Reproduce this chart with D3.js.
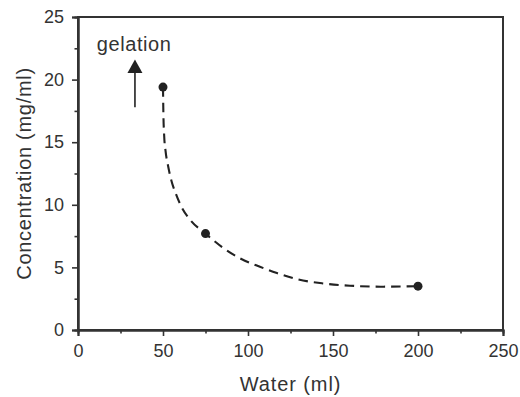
<!DOCTYPE html>
<html>
<head>
<meta charset="utf-8">
<script src="https://cdn.jsdelivr.net/npm/d3@7"></script>
<style>
  html, body { margin: 0; padding: 0; background: #fff; }
  svg text { font-family: "Liberation Sans", Arial, sans-serif; fill: #333; }
</style>
</head>
<body>
<svg id="chart" width="520" height="397"></svg>
<script>
// Measured points
const waterMl = [50, 75, 200];
const concentration = [19.4, 7.7, 3.5];

// Dashed guide curve
const curveWater = [50, 50.2, 50.7, 51.5, 53, 55, 57.5, 61, 66, 75, 85, 95, 107, 117, 129, 144, 160, 178, 200];
const curveConc  = [19.4, 17.5, 15.5, 14.3, 13.1, 11.9, 10.9, 9.8, 8.8, 7.7, 6.6, 5.75, 5.05, 4.55, 4.05, 3.72, 3.54, 3.46, 3.5];

// Axis ticks
const xMajor = [0, 50, 100, 150, 200, 250];
const xMinor = [25, 75, 125, 175, 225];
const yMajor = [0, 5, 10, 15, 20, 25];
const yMinor = [2.5, 7.5, 12.5, 17.5, 22.5];

// Annotation
const arrowX = [33.5];
const arrowY = [17.8, 21.6];
const annotationText = "gelation";
const annotationPos = [11, 22.3];

const xTitle = "Water (ml)";
const yTitle = "Concentration (mg/ml)";

const svg = d3.select("#chart");
const m = { left: 78, right: 17, top: 17, bottom: 67 };
const W = 520, H = 397;
const x = d3.scaleLinear().domain([0, 250]).range([m.left, W - m.right]);
const y = d3.scaleLinear().domain([0, 25]).range([H - m.bottom, m.top]);
const ink = "#333";

// Frame
svg.append("rect")
  .attr("x", x(0)).attr("y", y(25))
  .attr("width", x(250) - x(0)).attr("height", y(0) - y(25))
  .attr("fill", "none").attr("stroke", ink).attr("stroke-width", 2);

function styleAxis(g) {
  g.select(".domain").attr("stroke", ink).attr("stroke-width", 2);
  g.selectAll(".tick line").attr("stroke", ink).attr("stroke-width", 1.6);
  g.selectAll("text").attr("fill", ink).style("font-size", "18px");
}

// X axis
svg.append("g").attr("transform", `translate(0,${y(0)})`)
  .call(d3.axisBottom(x).tickValues(xMajor).tickSize(6).tickPadding(8).tickFormat(d3.format("d")))
  .call(styleAxis);
svg.append("g").attr("transform", `translate(0,${y(0)})`)
  .call(d3.axisBottom(x).tickValues(xMinor).tickSize(3.5).tickFormat(""))
  .call(styleAxis);

// Y axis
svg.append("g").attr("transform", `translate(${x(0)},0)`)
  .call(d3.axisLeft(y).tickValues(yMajor).tickSize(6).tickPadding(8).tickFormat(d3.format("d")))
  .call(styleAxis);
svg.append("g").attr("transform", `translate(${x(0)},0)`)
  .call(d3.axisLeft(y).tickValues(yMinor).tickSize(3.5).tickFormat(""))
  .call(styleAxis);

// Dashed curve
const curvePts = curveWater.map((w, i) => [w, curveConc[i]]);
svg.append("path")
  .datum(curvePts)
  .attr("fill", "none")
  .attr("stroke", "#222")
  .attr("stroke-width", 2.1)
  .attr("stroke-dasharray", "9.5,6")
  .attr("d", d3.line().x(d => x(d[0])).y(d => y(d[1])).curve(d3.curveMonotoneX));

// Points
svg.selectAll("circle.pt")
  .data(waterMl.map((w, i) => [w, concentration[i]]))
  .join("circle")
  .attr("class", "pt")
  .attr("cx", d => x(d[0])).attr("cy", d => y(d[1]))
  .attr("r", 4.5).attr("fill", "#222");

// Arrow
const ax = x(arrowX[0]);
const tipY = y(arrowY[1]);
const headLen = 13.5, headHalf = 7.5;
svg.append("line")
  .attr("x1", ax).attr("x2", ax)
  .attr("y1", y(arrowY[0])).attr("y2", tipY + headLen)
  .attr("stroke", "#222").attr("stroke-width", 1.6);
svg.append("path")
  .attr("d", `M${ax},${tipY} L${ax - headHalf},${tipY + headLen} L${ax + headHalf},${tipY + headLen} Z`)
  .attr("fill", "#222");

svg.append("text")
  .attr("x", x(annotationPos[0])).attr("y", y(annotationPos[1]))
  .style("font-size", "20px").style("letter-spacing", "0.6px")
  .text(annotationText);

// Axis titles
svg.append("text")
  .attr("x", (x(0) + x(250)) / 2).attr("y", 391)
  .attr("text-anchor", "middle")
  .style("font-size", "20px").style("letter-spacing", "0.9px")
  .text(xTitle);

svg.append("text")
  .attr("transform", `translate(31,${(y(0) + y(25)) / 2}) rotate(-90)`)
  .attr("text-anchor", "middle")
  .style("font-size", "20px").style("letter-spacing", "0.7px")
  .text(yTitle);
</script>
</body>
</html>
